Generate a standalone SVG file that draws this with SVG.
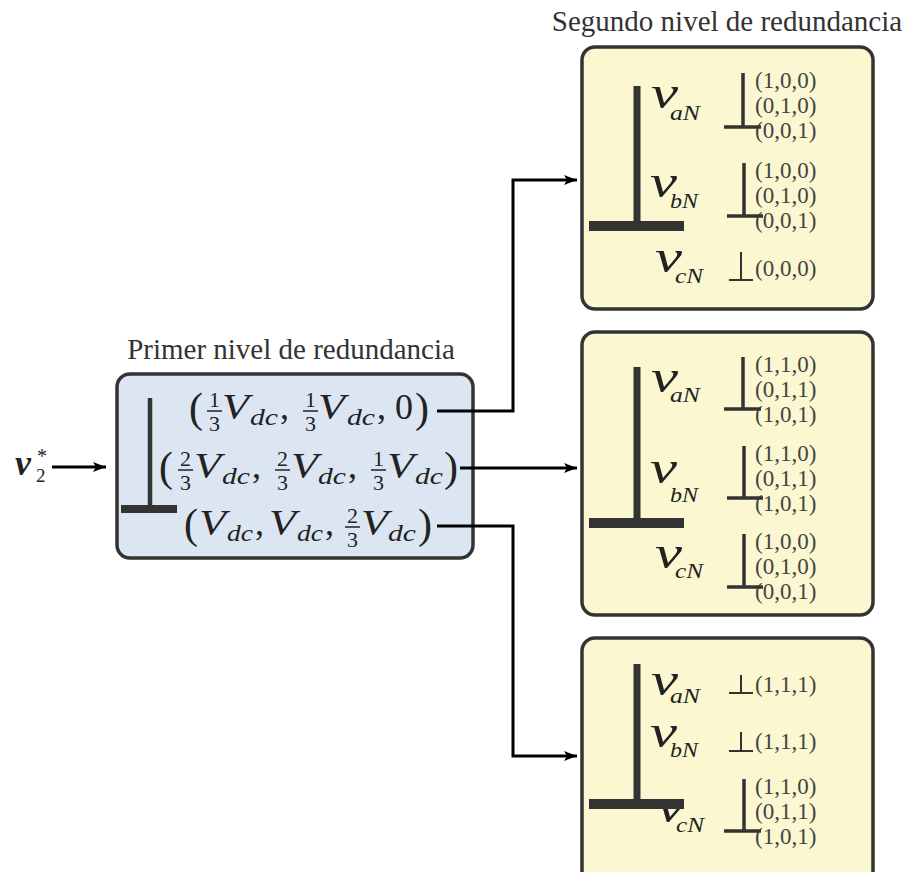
<svg xmlns="http://www.w3.org/2000/svg" width="906" height="872" viewBox="0 0 906 872">
  <defs>
    <marker id="arrow" markerUnits="userSpaceOnUse" markerWidth="14" markerHeight="12" refX="13" refY="6" orient="auto">
      <path d="M0,1 L13,6 L0,11 L3,6 Z" fill="#000"/>
    </marker>
    <style>
      .title { font-family: "Liberation Serif", serif; font-size: 29px; fill: #333; text-anchor: middle; }
      .box1 { fill: #dce6f2; stroke: #333; stroke-width: 3.5; }
      .box2 { fill: #fbf7d1; stroke: #333; stroke-width: 3.5; }
      .m { font-family: "Liberation Serif", serif; fill: #222; }
      .it { font-style: italic; }
      .par { font-size: 42px; }
      .big { font-size: 36px; }
      .sub { font-size: 24px; }
      .num { font-size: 22px; text-anchor: middle; }
      .vv { font-size: 46px; }
      .vs { font-size: 21px; }
      .tup { font-family: "Liberation Serif", serif; font-size: 23px; fill: #444; }
      .fbar { stroke: #222; stroke-width: 1.5; }
      .thick { stroke: #333; fill: none; }
      .wire { stroke: #000; stroke-width: 3; fill: none; }
    </style>
  </defs>

  <!-- input reference vector -->
  <g id="input">
    <text class="m it" x="15" y="475" font-size="36" font-weight="bold">v</text>
    <text class="m" x="36" y="482" font-size="19">2</text>
    <text class="m" x="37" y="463" font-size="20">*</text>
  </g>

  <!-- first redundancy level -->
  <g id="level1">
    <text class="title" x="291" y="359">Primer nivel de redundancia</text>
    <rect class="box1" x="117" y="374" width="356" height="184" rx="13"/>
    <line class="thick" x1="150" y1="398" x2="150" y2="509" stroke-width="4.5"/>
    <line class="thick" x1="121" y1="509" x2="177" y2="509" stroke-width="8"/>

    <!-- (1/3 Vdc, 1/3 Vdc, 0) -->
    <g id="l1-row1">
      <text class="m par" x="189" y="422">(</text>
      <text class="m num" x="214.5" y="407">1</text>
      <line class="fbar" x1="207" y1="411" x2="222" y2="411"/>
      <text class="m num" x="214.5" y="431">3</text>
      <text class="m it big" x="222" y="419" textLength="27" lengthAdjust="spacingAndGlyphs">V</text>
      <text class="m it sub" x="250" y="425" textLength="28" lengthAdjust="spacingAndGlyphs">dc</text>
      <text class="m big" x="280" y="419">,</text>
      <text class="m num" x="310.5" y="407">1</text>
      <line class="fbar" x1="303" y1="411" x2="318" y2="411"/>
      <text class="m num" x="310.5" y="431">3</text>
      <text class="m it big" x="318" y="419" textLength="27" lengthAdjust="spacingAndGlyphs">V</text>
      <text class="m it sub" x="347" y="425" textLength="28" lengthAdjust="spacingAndGlyphs">dc</text>
      <text class="m big" x="377" y="419">,</text>
      <text class="m big" x="395" y="419">0</text>
      <text class="m par" x="415" y="422">)</text>
    </g>

    <!-- (2/3 Vdc, 2/3 Vdc, 1/3 Vdc) -->
    <g id="l1-row2">
      <text class="m par" x="159" y="481">(</text>
      <text class="m num" x="185.5" y="466">2</text>
      <line class="fbar" x1="178" y1="470" x2="193" y2="470"/>
      <text class="m num" x="185.5" y="490">3</text>
      <text class="m it big" x="194" y="478" textLength="27" lengthAdjust="spacingAndGlyphs">V</text>
      <text class="m it sub" x="222" y="484" textLength="28" lengthAdjust="spacingAndGlyphs">dc</text>
      <text class="m big" x="252" y="478">,</text>
      <text class="m num" x="282.5" y="466">2</text>
      <line class="fbar" x1="275" y1="470" x2="290" y2="470"/>
      <text class="m num" x="282.5" y="490">3</text>
      <text class="m it big" x="291" y="478" textLength="27" lengthAdjust="spacingAndGlyphs">V</text>
      <text class="m it sub" x="318" y="484" textLength="28" lengthAdjust="spacingAndGlyphs">dc</text>
      <text class="m big" x="348" y="478">,</text>
      <text class="m num" x="378.5" y="466">1</text>
      <line class="fbar" x1="371" y1="470" x2="386" y2="470"/>
      <text class="m num" x="378.5" y="490">3</text>
      <text class="m it big" x="387" y="478" textLength="27" lengthAdjust="spacingAndGlyphs">V</text>
      <text class="m it sub" x="415" y="484" textLength="28" lengthAdjust="spacingAndGlyphs">dc</text>
      <text class="m par" x="444" y="481">)</text>
    </g>

    <!-- (Vdc, Vdc, 2/3 Vdc) -->
    <g id="l1-row3">
      <text class="m par" x="184" y="538">(</text>
      <text class="m it big" x="199" y="535" textLength="27" lengthAdjust="spacingAndGlyphs">V</text>
      <text class="m it sub" x="227" y="541" textLength="26" lengthAdjust="spacingAndGlyphs">dc</text>
      <text class="m big" x="255" y="535">,</text>
      <text class="m it big" x="269" y="535" textLength="27" lengthAdjust="spacingAndGlyphs">V</text>
      <text class="m it sub" x="297" y="541" textLength="26" lengthAdjust="spacingAndGlyphs">dc</text>
      <text class="m big" x="325" y="535">,</text>
      <text class="m num" x="352.5" y="523">2</text>
      <line class="fbar" x1="345" y1="527" x2="360" y2="527"/>
      <text class="m num" x="352.5" y="547">3</text>
      <text class="m it big" x="361" y="535" textLength="27" lengthAdjust="spacingAndGlyphs">V</text>
      <text class="m it sub" x="388" y="541" textLength="28" lengthAdjust="spacingAndGlyphs">dc</text>
      <text class="m par" x="418" y="538">)</text>
    </g>
  </g>

  <!-- second redundancy level: group A -->
  <g id="level2-a">
    <text class="title" x="727" y="31">Segundo nivel de redundancia</text>
    <rect class="box2" x="582" y="47" width="291" height="262" rx="13"/>
    <text class="m it vv" x="651" y="108" textLength="27" lengthAdjust="spacingAndGlyphs">v</text>
    <text class="m it vs" x="670" y="120" textLength="30" lengthAdjust="spacingAndGlyphs">aN</text>
    <text class="m it vv" x="650" y="197" textLength="27" lengthAdjust="spacingAndGlyphs">v</text>
    <text class="m it vs" x="670" y="208" textLength="28" lengthAdjust="spacingAndGlyphs">bN</text>
    <text class="m it vv" x="655" y="272" textLength="27" lengthAdjust="spacingAndGlyphs">v</text>
    <text class="m it vs" x="675" y="283" textLength="28" lengthAdjust="spacingAndGlyphs">cN</text>
    <line class="thick" x1="637" y1="86" x2="637" y2="226" stroke-width="7"/>
    <line class="thick" x1="589" y1="226" x2="684" y2="226" stroke-width="10"/>

    <text class="tup" x="755" y="88">(1,0,0)</text>
    <text class="tup" x="755" y="113">(0,1,0)</text>
    <text class="tup" x="755" y="138">(0,0,1)</text>
    <line class="thick" x1="743" y1="73" x2="743" y2="127" stroke-width="3.5"/>
    <line class="thick" x1="724" y1="127" x2="761" y2="127" stroke-width="3.5"/>

    <text class="tup" x="755" y="178">(1,0,0)</text>
    <text class="tup" x="755" y="203">(0,1,0)</text>
    <text class="tup" x="755" y="228">(0,0,1)</text>
    <line class="thick" x1="744" y1="163" x2="744" y2="216" stroke-width="3.5"/>
    <line class="thick" x1="727" y1="216" x2="763" y2="216" stroke-width="3.5"/>

    <text class="tup" x="755" y="276">(0,0,0)</text>
    <line class="thick" x1="741" y1="252" x2="741" y2="280" stroke-width="2"/>
    <line class="thick" x1="729" y1="280" x2="753" y2="280" stroke-width="2"/>
  </g>

  <!-- second redundancy level: group B -->
  <g id="level2-b">
    <rect class="box2" x="582" y="332" width="291" height="283" rx="13"/>
    <text class="m it vv" x="651" y="392" textLength="27" lengthAdjust="spacingAndGlyphs">v</text>
    <text class="m it vs" x="670" y="402" textLength="30" lengthAdjust="spacingAndGlyphs">aN</text>
    <text class="m it vv" x="650" y="483" textLength="27" lengthAdjust="spacingAndGlyphs">v</text>
    <text class="m it vs" x="670" y="502" textLength="28" lengthAdjust="spacingAndGlyphs">bN</text>
    <text class="m it vv" x="655" y="568" textLength="27" lengthAdjust="spacingAndGlyphs">v</text>
    <text class="m it vs" x="675" y="578" textLength="28" lengthAdjust="spacingAndGlyphs">cN</text>
    <line class="thick" x1="637" y1="367" x2="637" y2="523" stroke-width="7"/>
    <line class="thick" x1="589" y1="523" x2="684" y2="523" stroke-width="10"/>

    <text class="tup" x="755" y="372">(1,1,0)</text>
    <text class="tup" x="755" y="397">(0,1,1)</text>
    <text class="tup" x="755" y="422">(1,0,1)</text>
    <line class="thick" x1="743" y1="357" x2="743" y2="409" stroke-width="3.5"/>
    <line class="thick" x1="724" y1="409" x2="761" y2="409" stroke-width="3.5"/>

    <text class="tup" x="755" y="461">(1,1,0)</text>
    <text class="tup" x="755" y="486">(0,1,1)</text>
    <text class="tup" x="755" y="511">(1,0,1)</text>
    <line class="thick" x1="744" y1="446" x2="744" y2="498" stroke-width="3.5"/>
    <line class="thick" x1="727" y1="498" x2="763" y2="498" stroke-width="3.5"/>

    <text class="tup" x="755" y="549">(1,0,0)</text>
    <text class="tup" x="755" y="574">(0,1,0)</text>
    <text class="tup" x="755" y="599">(0,0,1)</text>
    <line class="thick" x1="744" y1="534" x2="744" y2="587" stroke-width="3.5"/>
    <line class="thick" x1="727" y1="587" x2="763" y2="587" stroke-width="3.5"/>
  </g>

  <!-- second redundancy level: group C -->
  <g id="level2-c">
    <rect class="box2" x="582" y="638" width="291" height="262" rx="13"/>
    <text class="m it vv" x="651" y="695" textLength="27" lengthAdjust="spacingAndGlyphs">v</text>
    <text class="m it vs" x="670" y="703" textLength="30" lengthAdjust="spacingAndGlyphs">aN</text>
    <text class="m it vv" x="650" y="747" textLength="27" lengthAdjust="spacingAndGlyphs">v</text>
    <text class="m it vs" x="670" y="757" textLength="28" lengthAdjust="spacingAndGlyphs">bN</text>
    <text class="m it vv" x="657" y="822" textLength="27" lengthAdjust="spacingAndGlyphs">v</text>
    <text class="m it vs" x="676" y="832" textLength="28" lengthAdjust="spacingAndGlyphs">cN</text>
    <line class="thick" x1="637" y1="664" x2="637" y2="804" stroke-width="7"/>
    <line class="thick" x1="589" y1="804" x2="684" y2="804" stroke-width="10"/>

    <text class="tup" x="755" y="692">(1,1,1)</text>
    <line class="thick" x1="741" y1="675" x2="741" y2="693" stroke-width="2"/>
    <line class="thick" x1="729" y1="693" x2="753" y2="693" stroke-width="2"/>

    <text class="tup" x="755" y="749">(1,1,1)</text>
    <line class="thick" x1="741" y1="732" x2="741" y2="751" stroke-width="2"/>
    <line class="thick" x1="729" y1="751" x2="753" y2="751" stroke-width="2"/>

    <text class="tup" x="755" y="794">(1,1,0)</text>
    <text class="tup" x="755" y="819">(0,1,1)</text>
    <text class="tup" x="755" y="844">(1,0,1)</text>
    <line class="thick" x1="744" y1="779" x2="744" y2="831" stroke-width="3.5"/>
    <line class="thick" x1="724" y1="831" x2="761" y2="831" stroke-width="3.5"/>
  </g>

  <!-- connectors -->
  <g id="connectors">
    <line class="wire" x1="52" y1="467" x2="106" y2="467" marker-end="url(#arrow)"/>
    <polyline class="wire" points="437,411 513,411 513,180 577,180" marker-end="url(#arrow)"/>
    <line class="wire" x1="460" y1="468" x2="577" y2="468" marker-end="url(#arrow)"/>
    <polyline class="wire" points="437,526 513,526 513,756 577,756" marker-end="url(#arrow)"/>
  </g>
</svg>
